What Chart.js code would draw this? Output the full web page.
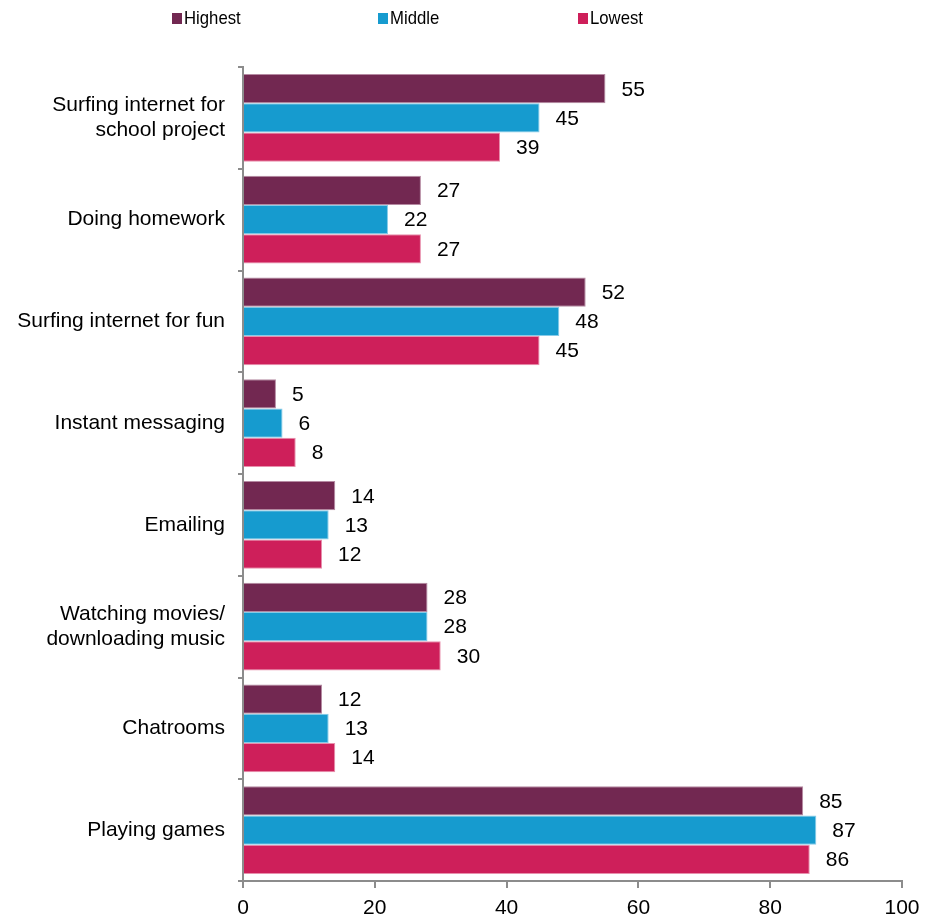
<!DOCTYPE html>
<html>
<head>
  <title>Computer activities by group</title>
  <script src="https://cdn.jsdelivr.net/npm/chart.js"></script>
  <style>
    html, body { margin: 0; padding: 0; background: #fff; overflow: hidden; }
    #wrap { position: relative; width: 928px; height: 914px; }
  </style>
</head>
<body>
  <div id="wrap"><canvas id="activityChart"></canvas></div>
  <script>
    const activities = [
      ['Surfing internet for', 'school project'],
      'Doing homework',
      'Surfing internet for fun',
      'Instant messaging',
      'Emailing',
      ['Watching movies/', 'downloading music'],
      'Chatrooms',
      'Playing games'
    ];
    const highest = [55, 27, 52, 5, 14, 28, 12, 85];
    const middle  = [45, 22, 48, 6, 13, 28, 13, 87];
    const lowest  = [39, 27, 45, 8, 12, 30, 14, 86];
    const xTicks  = [0, 20, 40, 60, 80, 100];

    const FONT = 'Liberation Sans, Arial, sans-serif';
    const AXIS = '#8c8c8c';

    // numbers printed just past the end of each bar
    const valueLabels = {
      id: 'valueLabels',
      afterDatasetsDraw(chart) {
        const ctx = chart.ctx;
        ctx.save();
        ctx.font = '21px ' + FONT;
        ctx.fillStyle = '#000';
        ctx.textAlign = 'left';
        ctx.textBaseline = 'middle';
        chart.data.datasets.forEach((ds, i) => {
          chart.getDatasetMeta(i).data.forEach((bar, j) => {
            ctx.fillText(String(ds.data[j]), bar.x + 16, bar.y + 1);
          });
        });
        ctx.restore();
      }
    };

    // legend across the top, one slot per series (text slightly condensed)
    const topLegend = {
      id: 'topLegend',
      afterDraw(chart) {
        const ctx = chart.ctx;
        const starts = [172, 378, 578];
        chart.data.datasets.forEach((ds, i) => {
          const x = starts[i];
          ctx.save();
          ctx.fillStyle = ds.backgroundColor;
          ctx.fillRect(x, 13, 10, 11);
          ctx.translate(x + 12, 19);
          ctx.scale(0.88, 1);
          ctx.font = '19px ' + FONT;
          ctx.textBaseline = 'middle';
          ctx.textAlign = 'left';
          ctx.fillStyle = '#000';
          ctx.fillText(ds.label, 0, 0);
          ctx.restore();
        });
      }
    };

    const barStyle = { borderWidth: 1, categoryPercentage: 0.86, barPercentage: 1.0 };

    new Chart(document.getElementById('activityChart'), {
      type: 'bar',
      data: {
        labels: activities,
        datasets: [
          { label: 'Highest', data: highest, backgroundColor: '#722851', borderColor: '#b58aa2', ...barStyle },
          { label: 'Middle',  data: middle,  backgroundColor: '#169bcf', borderColor: '#86cbe8', ...barStyle },
          { label: 'Lowest',  data: lowest,  backgroundColor: '#ce1f5a', borderColor: '#e890ad', ...barStyle }
        ]
      },
      options: {
        indexAxis: 'y',
        responsive: true,
        maintainAspectRatio: false,
        animation: false,
        layout: { padding: { top: 67, right: 26, left: 0, bottom: 0 } },
        plugins: {
          legend: { display: false },
          tooltip: { enabled: false }
        },
        scales: {
          x: {
            min: 0,
            max: 100,
            afterBuildTicks: (scale) => { scale.ticks = xTicks.map(v => ({ value: v })); },
            afterFit: (scale) => {
              scale.height = 33;
              scale.paddingLeft = 0;
              scale.paddingRight = 0;
            },
            grid: { drawOnChartArea: false, drawTicks: true, tickLength: 7, color: AXIS, lineWidth: 2 },
            border: { color: AXIS, width: 2 },
            ticks: { color: '#000', font: { family: FONT, size: 21 }, padding: 8, maxRotation: 0 }
          },
          y: {
            afterFit: (scale) => {
              scale.width = 243;
              scale.paddingTop = 0;
              scale.paddingBottom = 0;
            },
            grid: { drawOnChartArea: false, drawTicks: true, tickLength: 5, color: AXIS, lineWidth: 2, offset: true },
            border: { color: AXIS, width: 2 },
            ticks: { color: '#000', font: { family: FONT, size: 21, lineHeight: 1.2 }, padding: 13 }
          }
        }
      },
      plugins: [valueLabels, topLegend]
    });
  </script>
</body>
</html>
